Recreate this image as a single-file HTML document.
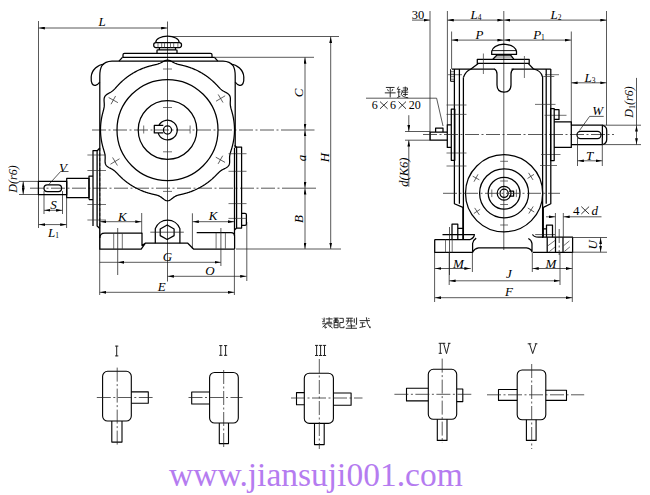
<!DOCTYPE html>
<html><head><meta charset="utf-8">
<style>
html,body{margin:0;padding:0;background:#fff;width:650px;height:495px;overflow:hidden}
svg{display:block}
.k{stroke:#000;stroke-width:1.25;fill:none;stroke-linejoin:round}
.t{stroke:#222;stroke-width:0.75;fill:none}
.x{stroke:#333;stroke-width:0.7;fill:none}
.c{stroke:#222;stroke-width:0.75;fill:none;stroke-dasharray:14 2.5 2 2.5}
.h{stroke:#222;stroke-width:0.75;fill:none;stroke-dasharray:3 2}
text{font-family:"Liberation Serif",serif;fill:#000}
</style></head>
<body>
<svg width="650" height="495" viewBox="0 0 650 495">
<defs>
<marker id="a" viewBox="0 0 6 3" refX="6.4" refY="1.5" markerWidth="6" markerHeight="3" markerUnits="userSpaceOnUse" orient="auto-start-reverse"><path d="M0,0.1 L6,1.5 L0,2.9z" fill="#000"/></marker>
</defs>
<line class="t" x1="38.5" y1="21" x2="38.5" y2="228"/>
<line class="t" x1="38.5" y1="28" x2="167.5" y2="28" marker-start="url(#a)" marker-end="url(#a)"/>
<line class="t" x1="167.5" y1="21.5" x2="167.5" y2="281.5"/>
<line class="t" x1="170" y1="36.5" x2="339" y2="36.5"/>
<line class="t" x1="214" y1="57.3" x2="314" y2="57.3"/>
<line class="c" x1="92" y1="130.0" x2="290" y2="130.0"/>
<line class="t" x1="290" y1="130.0" x2="314.5" y2="130.0"/>
<line class="c" x1="30" y1="188.2" x2="290" y2="188.2"/>
<line class="t" x1="290" y1="188.2" x2="316" y2="188.2"/>
<line class="t" x1="236" y1="249" x2="341" y2="249"/>
<line class="t" x1="305" y1="57.3" x2="305" y2="130.0" marker-start="url(#a)" marker-end="url(#a)"/>
<line class="t" x1="305" y1="130.0" x2="305" y2="188.2" marker-start="url(#a)" marker-end="url(#a)"/>
<line class="t" x1="305" y1="188.2" x2="305" y2="249" marker-start="url(#a)" marker-end="url(#a)"/>
<line class="t" x1="330.7" y1="36.5" x2="330.7" y2="249" marker-start="url(#a)" marker-end="url(#a)"/>
<line class="t" x1="100" y1="221.7" x2="141.7" y2="221.7" marker-start="url(#a)" marker-end="url(#a)"/>
<line class="t" x1="141.7" y1="213" x2="141.7" y2="234"/>
<line class="t" x1="192.4" y1="221.7" x2="234.4" y2="221.7" marker-start="url(#a)" marker-end="url(#a)"/>
<line class="t" x1="192.4" y1="213.3" x2="192.4" y2="249"/>
<line class="t" x1="117.7" y1="262.3" x2="220.9" y2="262.3" marker-start="url(#a)" marker-end="url(#a)"/>
<line class="t" x1="99.7" y1="262.3" x2="117.7" y2="262.3"/>
<line class="t" x1="167.5" y1="276.3" x2="246.6" y2="276.3" marker-start="url(#a)" marker-end="url(#a)"/>
<line class="t" x1="246.8" y1="222" x2="246.8" y2="281"/>
<line class="t" x1="99.7" y1="292.3" x2="234.4" y2="292.3" marker-start="url(#a)" marker-end="url(#a)"/>
<line class="t" x1="99.7" y1="224" x2="99.7" y2="295"/>
<line class="t" x1="234.4" y1="249" x2="234.4" y2="295"/>
<line class="t" x1="38.6" y1="224.6" x2="66.6" y2="224.6" marker-start="url(#a)" marker-end="url(#a)"/>
<line class="t" x1="66.6" y1="195" x2="66.6" y2="228"/>
<line class="t" x1="44" y1="210.3" x2="62.5" y2="210.3" marker-start="url(#a)" marker-end="url(#a)"/>
<line class="t" x1="44" y1="191" x2="44" y2="214"/>
<line class="t" x1="62.5" y1="191" x2="62.5" y2="214"/>
<line class="t" x1="23.2" y1="181.4" x2="23.2" y2="194.5" marker-start="url(#a)" marker-end="url(#a)"/>
<line class="t" x1="19" y1="181.4" x2="38.5" y2="181.4"/>
<line class="t" x1="19" y1="194.5" x2="38.5" y2="194.5"/>
<polyline class="t" points="48.5,184.8 60.6,171.5 68.5,171.5"/>
<text x="102" y="26" text-anchor="middle" style="font-size:13px;font-style:italic;">L</text>
<text transform="translate(302.5,93) rotate(-90)" text-anchor="middle" style="font-size:13px;font-style:italic;">C</text>
<text transform="translate(305.5,158) rotate(-90)" text-anchor="middle" style="font-size:13px;font-style:italic;">a</text>
<text transform="translate(303,219) rotate(-90)" text-anchor="middle" style="font-size:13px;font-style:italic;">B</text>
<text transform="translate(329,157.5) rotate(-90)" text-anchor="middle" style="font-size:13px;font-style:italic;">H</text>
<text x="122.3" y="220.5" text-anchor="middle" style="font-size:13px;font-style:italic;">K</text>
<text x="213" y="220" text-anchor="middle" style="font-size:13px;font-style:italic;">K</text>
<text x="167.4" y="261" text-anchor="middle" style="font-size:13px;font-style:italic;">G</text>
<text x="210" y="275" text-anchor="middle" style="font-size:13px;font-style:italic;">O</text>
<text x="161.7" y="290.5" text-anchor="middle" style="font-size:13px;font-style:italic;">E</text>
<text x="53.5" y="236.5" text-anchor="middle" style="font-size:13px"><tspan style="font-style:italic">L</tspan><tspan dy="1" style="font-size:7.5px">1</tspan></text>
<text x="53.4" y="208.5" text-anchor="middle" style="font-size:13px;font-style:italic;">S</text>
<text x="63" y="171.5" text-anchor="middle" style="font-size:13px;font-style:italic;">V</text>
<text transform="translate(16.9,179) rotate(-90)" text-anchor="middle" style="font-size:12px;font-style:italic;">D(r6)</text>
<path class="k" d="M234.50,130.00 L234.49,130.58 L234.48,131.17 L234.46,131.75 L234.44,132.34 L234.41,132.92 L234.38,133.51 L234.34,134.09 L234.30,134.67 L234.25,135.25 L234.20,135.84 L234.14,136.42 L234.07,137.00 L234.00,137.58 L233.93,138.16 L233.85,138.74 L233.77,139.31 L233.68,139.89 L233.58,140.47 L233.48,141.04 L233.38,141.62 L233.27,142.19 L233.15,142.76 L233.03,143.33 L232.90,143.90 L232.77,144.47 L232.64,145.04 L232.50,145.60 L232.35,146.17 L232.20,146.73 L232.05,147.30 L231.89,147.86 L231.73,148.42 L231.56,148.98 L231.39,149.53 L231.22,150.09 L231.04,150.65 L230.87,151.20 L230.70,151.76 L230.53,152.32 L230.37,152.88 L230.21,153.45 L230.07,154.02 L229.94,154.60 L229.83,155.18 L229.73,155.78 L229.66,156.39 L229.61,157.01 L229.58,157.64 L229.58,158.29 L229.58,158.95 L229.60,159.62 L229.63,160.30 L229.64,160.98 L229.65,161.66 L229.62,162.34 L229.56,163.00 L229.46,163.64 L229.30,164.25 L229.08,164.84 L228.79,165.39 L228.44,165.90 L228.03,166.37 L227.57,166.81 L227.05,167.21 L226.49,167.58 L225.90,167.93 L225.30,168.26 L224.68,168.57 L224.07,168.88 L223.47,169.19 L222.88,169.50 L222.30,169.82 L221.76,170.15 L221.23,170.49 L220.73,170.84 L220.24,171.21 L219.78,171.59 L219.33,171.97 L218.90,172.37 L218.48,172.77 L218.06,173.18 L217.65,173.59 L217.24,174.01 L216.84,174.42 L216.43,174.84 L216.02,175.25 L215.62,175.66 L215.21,176.07 L214.80,176.48 L214.38,176.88 L213.96,177.28 L213.54,177.68 L213.12,178.07 L212.69,178.46 L212.26,178.85 L211.82,179.23 L211.39,179.61 L210.95,179.98 L210.50,180.35 L210.06,180.72 L209.61,181.08 L209.15,181.44 L208.70,181.79 L208.24,182.14 L207.78,182.49 L207.31,182.83 L206.84,183.17 L206.37,183.51 L205.90,183.84 L205.43,184.16 L204.95,184.49 L204.47,184.80 L203.98,185.12 L203.49,185.43 L203.00,185.73 L202.51,186.03 L202.02,186.33 L201.52,186.62 L201.02,186.91 L200.52,187.19 L200.02,187.47 L199.51,187.75 L199.00,188.02 L198.49,188.29 L197.98,188.55 L197.46,188.81 L196.95,189.06 L196.43,189.31 L195.90,189.55 L195.38,189.79 L194.86,190.03 L194.33,190.26 L193.80,190.48 L193.27,190.70 L192.73,190.92 L192.20,191.13 L191.66,191.34 L191.12,191.54 L190.58,191.74 L190.04,191.94 L189.50,192.13 L188.96,192.31 L188.41,192.49 L187.86,192.67 L187.31,192.84 L186.76,193.00 L186.21,193.16 L185.66,193.32 L185.10,193.47 L184.55,193.62 L183.99,193.76 L183.43,193.90 L182.87,194.04 L182.31,194.17 L181.75,194.30 L181.19,194.43 L180.63,194.55 L180.07,194.68 L179.51,194.81 L178.95,194.95 L178.39,195.10 L177.84,195.26 L177.28,195.44 L176.73,195.64 L176.17,195.87 L175.62,196.13 L175.07,196.43 L174.52,196.76 L173.96,197.13 L173.41,197.53 L172.85,197.96 L172.28,198.40 L171.71,198.85 L171.13,199.29 L170.54,199.70 L169.95,200.07 L169.34,200.38 L168.73,200.61 L168.12,200.75 L167.50,200.80 L166.88,200.75 L166.27,200.61 L165.66,200.38 L165.05,200.07 L164.46,199.70 L163.87,199.29 L163.29,198.85 L162.72,198.40 L162.15,197.96 L161.59,197.53 L161.04,197.13 L160.48,196.76 L159.93,196.43 L159.38,196.13 L158.83,195.87 L158.27,195.64 L157.72,195.44 L157.16,195.26 L156.61,195.10 L156.05,194.95 L155.49,194.81 L154.93,194.68 L154.37,194.55 L153.81,194.43 L153.25,194.30 L152.69,194.17 L152.13,194.04 L151.57,193.90 L151.01,193.76 L150.45,193.62 L149.90,193.47 L149.34,193.32 L148.79,193.16 L148.24,193.00 L147.69,192.84 L147.14,192.67 L146.59,192.49 L146.04,192.31 L145.50,192.13 L144.96,191.94 L144.42,191.74 L143.88,191.54 L143.34,191.34 L142.80,191.13 L142.27,190.92 L141.73,190.70 L141.20,190.48 L140.67,190.26 L140.14,190.03 L139.62,189.79 L139.10,189.55 L138.57,189.31 L138.05,189.06 L137.54,188.81 L137.02,188.55 L136.51,188.29 L136.00,188.02 L135.49,187.75 L134.98,187.47 L134.48,187.19 L133.98,186.91 L133.48,186.62 L132.98,186.33 L132.49,186.03 L132.00,185.73 L131.51,185.43 L131.02,185.12 L130.53,184.80 L130.05,184.49 L129.57,184.16 L129.10,183.84 L128.63,183.51 L128.16,183.17 L127.69,182.83 L127.22,182.49 L126.76,182.14 L126.30,181.79 L125.85,181.44 L125.39,181.08 L124.94,180.72 L124.50,180.35 L124.05,179.98 L123.61,179.61 L123.18,179.23 L122.74,178.85 L122.31,178.46 L121.88,178.07 L121.46,177.68 L121.04,177.28 L120.62,176.88 L120.21,176.48 L119.79,176.07 L119.39,175.66 L118.98,175.25 L118.58,174.83 L118.17,174.41 L117.77,174.00 L117.37,173.58 L116.97,173.16 L116.56,172.74 L116.15,172.33 L115.73,171.93 L115.30,171.53 L114.85,171.13 L114.39,170.75 L113.91,170.38 L113.41,170.02 L112.89,169.68 L112.34,169.34 L111.77,169.02 L111.19,168.70 L110.58,168.39 L109.97,168.08 L109.36,167.76 L108.76,167.42 L108.18,167.07 L107.62,166.69 L107.11,166.29 L106.64,165.85 L106.24,165.37 L105.89,164.86 L105.61,164.30 L105.40,163.72 L105.24,163.10 L105.14,162.46 L105.09,161.80 L105.07,161.13 L105.08,160.44 L105.10,159.76 L105.13,159.08 L105.16,158.41 L105.17,157.75 L105.17,157.10 L105.15,156.47 L105.10,155.85 L105.04,155.24 L104.95,154.64 L104.84,154.05 L104.72,153.47 L104.58,152.90 L104.43,152.33 L104.27,151.77 L104.11,151.21 L103.94,150.65 L103.77,150.09 L103.60,149.54 L103.43,148.98 L103.27,148.42 L103.11,147.86 L102.95,147.30 L102.80,146.73 L102.65,146.17 L102.50,145.60 L102.36,145.04 L102.23,144.47 L102.10,143.90 L101.97,143.33 L101.85,142.76 L101.73,142.19 L101.62,141.62 L101.52,141.04 L101.42,140.47 L101.32,139.89 L101.23,139.31 L101.15,138.74 L101.07,138.16 L101.00,137.58 L100.93,137.00 L100.86,136.42 L100.80,135.84 L100.75,135.25 L100.70,134.67 L100.66,134.09 L100.62,133.51 L100.59,132.92 L100.56,132.34 L100.54,131.75 L100.52,131.17 L100.51,130.58 L100.50,130.00 L100.50,129.42 L100.51,128.83 L100.52,128.25 L100.54,127.66 L100.57,127.08 L100.59,126.49 L100.63,125.91 L100.67,125.33 L100.71,124.74 L100.76,124.16 L100.81,123.58 L100.87,123.00 L100.94,122.42 L101.01,121.84 L101.09,121.26 L101.17,120.68 L101.25,120.10 L101.34,119.52 L101.44,118.94 L101.54,118.37 L101.64,117.79 L101.76,117.22 L101.87,116.65 L101.99,116.08 L102.12,115.51 L102.25,114.94 L102.38,114.37 L102.52,113.80 L102.67,113.23 L102.81,112.67 L102.96,112.10 L103.11,111.54 L103.26,110.97 L103.41,110.41 L103.56,109.84 L103.70,109.27 L103.83,108.70 L103.95,108.12 L104.05,107.53 L104.14,106.94 L104.21,106.34 L104.26,105.72 L104.28,105.10 L104.29,104.46 L104.27,103.81 L104.23,103.14 L104.19,102.47 L104.14,101.79 L104.09,101.10 L104.06,100.42 L104.06,99.74 L104.09,99.07 L104.17,98.43 L104.31,97.80 L104.51,97.21 L104.77,96.65 L105.10,96.12 L105.49,95.63 L105.94,95.17 L106.44,94.75 L106.98,94.35 L107.56,93.98 L108.15,93.63 L108.75,93.29 L109.35,92.95 L109.94,92.62 L110.52,92.29 L111.08,91.94 L111.61,91.59 L112.12,91.23 L112.61,90.85 L113.08,90.46 L113.53,90.06 L113.96,89.66 L114.38,89.24 L114.79,88.82 L115.19,88.39 L115.59,87.96 L115.98,87.53 L116.37,87.10 L116.76,86.66 L117.15,86.23 L117.54,85.80 L117.94,85.37 L118.34,84.95 L118.74,84.53 L119.14,84.11 L119.55,83.69 L119.96,83.28 L120.37,82.87 L120.79,82.47 L121.21,82.06 L121.63,81.67 L122.06,81.27 L122.49,80.88 L122.93,80.50 L123.36,80.11 L123.81,79.74 L124.25,79.36 L124.70,78.99 L125.15,78.62 L125.60,78.26 L126.06,77.90 L126.52,77.55 L126.98,77.19 L127.45,76.85 L127.92,76.51 L128.39,76.17 L128.86,75.83 L129.34,75.50 L129.82,75.18 L130.30,74.85 L130.79,74.54 L131.28,74.22 L131.77,73.91 L132.26,73.61 L132.76,73.31 L133.26,73.01 L133.76,72.72 L134.26,72.43 L134.77,72.15 L135.28,71.87 L135.79,71.59 L136.30,71.32 L136.82,71.06 L137.33,70.80 L137.85,70.54 L138.38,70.29 L138.90,70.04 L139.43,69.80 L139.96,69.56 L140.49,69.33 L141.02,69.10 L141.55,68.87 L142.09,68.65 L142.63,68.44 L143.17,68.23 L143.71,68.02 L144.25,67.82 L144.80,67.62 L145.34,67.43 L145.89,67.24 L146.44,67.06 L146.99,66.88 L147.54,66.71 L148.10,66.54 L148.65,66.38 L149.21,66.22 L149.77,66.06 L150.33,65.91 L150.89,65.77 L151.45,65.62 L152.01,65.49 L152.57,65.35 L153.14,65.22 L153.70,65.09 L154.27,64.96 L154.83,64.83 L155.40,64.70 L155.96,64.56 L156.52,64.42 L157.09,64.26 L157.65,64.10 L158.21,63.91 L158.77,63.71 L159.33,63.50 L159.90,63.26 L160.46,63.00 L161.02,62.72 L161.59,62.42 L162.16,62.11 L162.73,61.80 L163.31,61.49 L163.89,61.19 L164.48,60.92 L165.08,60.67 L165.68,60.47 L166.28,60.32 L166.89,60.23 L167.50,60.20 L168.11,60.23 L168.72,60.32 L169.32,60.47 L169.92,60.67 L170.52,60.92 L171.11,61.19 L171.69,61.49 L172.27,61.80 L172.84,62.11 L173.41,62.42 L173.98,62.72 L174.54,63.00 L175.10,63.26 L175.67,63.50 L176.23,63.71 L176.79,63.91 L177.35,64.10 L177.91,64.26 L178.48,64.42 L179.04,64.56 L179.60,64.70 L180.17,64.83 L180.73,64.96 L181.30,65.09 L181.86,65.22 L182.43,65.35 L182.99,65.49 L183.55,65.62 L184.11,65.77 L184.67,65.91 L185.23,66.06 L185.79,66.22 L186.35,66.38 L186.90,66.54 L187.46,66.71 L188.01,66.88 L188.56,67.06 L189.11,67.24 L189.66,67.43 L190.20,67.62 L190.75,67.82 L191.29,68.02 L191.83,68.23 L192.37,68.44 L192.91,68.65 L193.45,68.87 L193.98,69.10 L194.51,69.33 L195.04,69.56 L195.57,69.80 L196.10,70.04 L196.62,70.29 L197.15,70.54 L197.67,70.80 L198.18,71.06 L198.70,71.32 L199.21,71.59 L199.72,71.87 L200.23,72.15 L200.74,72.43 L201.24,72.72 L201.74,73.01 L202.24,73.31 L202.74,73.61 L203.23,73.91 L203.72,74.22 L204.21,74.54 L204.70,74.85 L205.18,75.18 L205.66,75.50 L206.14,75.83 L206.61,76.17 L207.08,76.51 L207.55,76.85 L208.02,77.19 L208.48,77.55 L208.94,77.90 L209.40,78.26 L209.85,78.62 L210.30,78.99 L210.75,79.36 L211.19,79.74 L211.64,80.11 L212.07,80.50 L212.51,80.88 L212.94,81.27 L213.37,81.67 L213.79,82.06 L214.21,82.47 L214.63,82.87 L215.04,83.28 L215.45,83.69 L215.86,84.11 L216.27,84.52 L216.67,84.94 L217.07,85.37 L217.47,85.79 L217.87,86.22 L218.26,86.64 L218.66,87.07 L219.06,87.49 L219.47,87.91 L219.89,88.33 L220.32,88.74 L220.75,89.14 L221.21,89.53 L221.69,89.91 L222.18,90.27 L222.70,90.63 L223.24,90.97 L223.80,91.30 L224.39,91.63 L224.99,91.95 L225.59,92.27 L226.20,92.60 L226.80,92.95 L227.38,93.31 L227.93,93.69 L228.43,94.11 L228.89,94.56 L229.29,95.04 L229.63,95.56 L229.90,96.12 L230.11,96.71 L230.26,97.33 L230.35,97.98 L230.39,98.64 L230.40,99.32 L230.38,100.01 L230.35,100.69 L230.31,101.37 L230.28,102.05 L230.26,102.71 L230.25,103.36 L230.27,104.00 L230.30,104.63 L230.36,105.24 L230.44,105.84 L230.54,106.43 L230.65,107.01 L230.78,107.59 L230.93,108.16 L231.07,108.73 L231.23,109.29 L231.39,109.86 L231.55,110.42 L231.71,110.98 L231.87,111.54 L232.02,112.11 L232.18,112.67 L232.33,113.23 L232.47,113.80 L232.61,114.37 L232.75,114.94 L232.88,115.51 L233.01,116.08 L233.13,116.65 L233.24,117.22 L233.36,117.79 L233.46,118.37 L233.56,118.94 L233.66,119.52 L233.75,120.10 L233.83,120.68 L233.91,121.26 L233.99,121.84 L234.06,122.42 L234.13,123.00 L234.19,123.58 L234.24,124.16 L234.29,124.74 L234.33,125.33 L234.37,125.91 L234.41,126.49 L234.43,127.08 L234.46,127.66 L234.48,128.25 L234.49,128.83 L234.50,129.42Z"/>
<g id="fhalf">
<path class="k" d="M167.5,61.2 L112,61.2 Q105,61.5 102,65.5 Q99.8,69 99.8,76 L99.8,148"/>
<path class="k" d="M104.2,64 C98,64.5 91.5,70 91.2,77 C90.8,83 92.5,86 95.5,85.3 C97.5,84.8 98.8,83.5 99.8,82"/>
</g>
<use href="#fhalf" transform="translate(335,0) scale(-1,1)"/>
<path class="k" d="M123,57.3 L123,54.8 Q123,53.4 124.5,53.4 L210.5,53.4 Q212,53.4 212,54.8 L212,57.3"/>
<line class="k" x1="122.4" y1="57.3" x2="214.5" y2="57.3"/>
<line class="k" x1="122.4" y1="57.3" x2="119" y2="61.2"/>
<line class="k" x1="214.5" y1="57.3" x2="217.8" y2="61.2"/>
<path class="k" d="M155.7,42.5 A11.75,6.4 0 0 1 179.2,42.5"/>
<rect class="k" x="153.7" y="42.5" width="27.8" height="5" rx="2.2"/>
<path class="x" d="M158,42.5v5 M161.7,42.5v5 M164.5,42.5v5 M170.5,42.5v5 M173.7,42.5v5 M177.9,42.5v5"/>
<path class="k" d="M159.4,47.5v2.3 M175.5,47.5v2.3 M157,53.4 V50.5 Q157,49.8 158,49.8 L176,49.8 Q177,49.8 177,50.5 V53.4"/>
<circle class="k" cx="167.5" cy="130.0" r="50.5"/>
<circle class="k" cx="167.5" cy="130.0" r="29.3"/>
<circle class="k" cx="167.5" cy="130.0" r="4.05"/>
<path class="k" d="M158.85,125.4 A9.8,9.8 0 1 1 158.1,132.9 M163.3,125.4 H154.3 V132.9 H163.3"/>
<path class="x" transform="translate(113.3,100.1) rotate(-151.1)" d="M-5.3,0H5.3 M0,-4.7V4.7"/>
<path class="x" transform="translate(115.0,161.5) rotate(149.0)" d="M-5.3,0H5.3 M0,-4.7V4.7"/>
<path class="x" transform="translate(220.6,98.5) rotate(-30.7)" d="M-5.3,0H5.3 M0,-4.7V4.7"/>
<path class="x" transform="translate(220.4,159.8) rotate(29.4)" d="M-5.3,0H5.3 M0,-4.7V4.7"/>
<path class="x" d="M163,69h9 M163,107.5h9 M163,151.8h9 M163,191.4h9 M143.7,125.5v8 M190.1,125.5v8"/>
<path class="k" d="M93,226 V150.5 H97.5 L99.8,148 M97.1,150.5 V226 L99.8,228.5"/>
<path class="k" d="M89,199.6 V176 H93 M89,199.6 H93"/>
<path class="k" d="M66.7,178.4 H89 V197.6 H66.7 Z"/>
<path class="k" d="M38.4,181.4 H66.7 V194.5 H38.4 Z"/>
<rect class="k" x="44" y="184.8" width="17.6" height="6.7" rx="3.3"/>
<path class="x" d="M87.4,155h18.6 M87.4,170.5h18.6 M87.4,204.5h18.6 M87.4,220h18.6"/>
<path class="h" d="M99.8,148V228"/>
<path class="k" d="M234.5,145.5 L236.6,147 H241.6 V228 H236.6 L234.5,230 M236.6,147 V228"/>
<path class="k" d="M241.6,213.3 H245 Q246.4,213.3 246.4,214.8 V224 Q246.4,225.4 245,225.4 H241.6"/>
<path class="x" d="M228.5,153.7h18 M228.5,171.3h18 M228.5,203.6h18 M228.5,218.4h18"/>
<path class="k" d="M99.8,148 V238 M234.5,148 V236"/>
<path class="k" d="M99.8,238.2 Q99.8,233.2 104.8,233.2 H142 V245.5 L145.2,243.2 H187.8 L193.5,249 H234.4 M99.8,238 V249.2 H141.2 L145.2,243.3"/>
<path class="k" d="M196.7,232.7 H231 Q234.6,232.7 234.6,236.5 V249"/>
<path class="x" d="M113.7,233.2v16 M122.3,233.2v16 M216.1,232.8v16 M225.4,232.8v16"/>
<path class="t" d="M117.7,228v47 M220.9,228v38"/>
<path class="k" d="M155.3,243.2 V228.6 A13.15,13.15 0 0 1 179.9,228.6 V243.2"/>
<path class="k" d="M167.2,225 L174.1,229 V235.6 L167.2,239.5 L160.2,235.6 V229 Z"/>
<line class="t" x1="150.3" y1="232.2" x2="183.8" y2="232.2"/>
<line class="t" x1="430" y1="11" x2="430" y2="140"/>
<line class="t" x1="447.4" y1="11" x2="447.4" y2="125"/>
<line class="t" x1="606.5" y1="11" x2="606.5" y2="125.2"/>
<line class="t" x1="503.8" y1="11" x2="503.8" y2="250"/>
<line class="t" x1="412" y1="20.1" x2="430" y2="20.1" marker-end="url(#a)"/>
<line class="t" x1="447.4" y1="20.1" x2="503.8" y2="20.1" marker-start="url(#a)" marker-end="url(#a)"/>
<line class="t" x1="503.8" y1="20.1" x2="606.7" y2="20.1" marker-start="url(#a)" marker-end="url(#a)"/>
<line class="t" x1="451.6" y1="31.5" x2="451.6" y2="69"/>
<line class="t" x1="571.3" y1="31.5" x2="571.3" y2="125.2"/>
<line class="t" x1="451.6" y1="40.1" x2="503.8" y2="40.1" marker-start="url(#a)" marker-end="url(#a)"/>
<line class="t" x1="503.8" y1="40.1" x2="571.2" y2="40.1" marker-start="url(#a)" marker-end="url(#a)"/>
<line class="t" x1="571.2" y1="82.8" x2="606.7" y2="82.8" marker-start="url(#a)" marker-end="url(#a)"/>
<text x="418" y="18.6" text-anchor="middle" style="font-size:12.5px;">30</text>
<text x="476" y="18.8" text-anchor="middle" style="font-size:13px"><tspan style="font-style:italic">L</tspan><tspan dy="1" style="font-size:7.5px">4</tspan></text>
<text x="556" y="18.8" text-anchor="middle" style="font-size:13px"><tspan style="font-style:italic">L</tspan><tspan dy="1" style="font-size:7.5px">2</tspan></text>
<text x="479.5" y="38.8" text-anchor="middle" style="font-size:13px;font-style:italic;">P</text>
<text x="539" y="38.8" text-anchor="middle" style="font-size:13px"><tspan style="font-style:italic">P</tspan><tspan dy="1" style="font-size:7.5px">1</tspan></text>
<text x="590" y="81.5" text-anchor="middle" style="font-size:13px"><tspan style="font-style:italic">L</tspan><tspan dy="1" style="font-size:7.5px">3</tspan></text>
<path class="k" d="M491.7,54.4 V51.5 Q493,45 503.8,44.1 Q515,45 516.5,51.5 V54.4 Z"/>
<path class="k" d="M492.9,59.2 L497,55 H510.5 L513.8,59.2"/>
<line class="x" x1="495" y1="57" x2="512" y2="57"/>
<line class="k" style="stroke-width:0.9" x1="491.7" y1="50.6" x2="516.5" y2="50.6"/>
<path class="k" d="M477.3,59.3 H529.2 V63.4 H477.3 Z"/>
<path class="k" d="M452,69 H495 M511.5,69 H550.8"/>
<path class="k" d="M478.3,63.4 L471.3,68.8 Q465.5,71 463.4,77.5 M528.2,63.4 L533.5,69 Q541,70.5 542.6,77"/>
<path class="k" d="M494.5,69 Q497,70.5 497,74 V85 Q497,92 504,92 Q511,92 511,85 V74 Q511,70.5 513.5,69"/>
<path class="x" d="M483.4,53.5v20.5 M524.4,56v22"/>
<path class="x" d="M448,74.7h14 M545,74.7h14"/>
<path class="k" style="stroke-width:1" d="M450.6,69.2 V81.3 H454.6"/>
<path class="x" d="M450.6,71.7h4 M450.6,74.2h4 M450.6,76.7h4 M450.6,79.2h4"/>
<path class="k" d="M463.4,77.5 V239 M542.6,77 V238"/>
<path class="k" d="M454.4,69.1 V203.7 L462.9,207.4 M459.4,69.1 V203.7 M550.8,69.1 V203.7 L543.4,207.4 M546.2,69.1 V203.7"/>
<path class="x" d="M446.5,105h20 M446.5,114.4h20 M446.5,153h20 M446.5,166h20 M543.3,76.5h11 M535,104.4h20.5 M544.5,115.3h22 M541,154.5h19.5 M540,165.5h17"/>
<path class="k" d="M430.1,132 H447.3 V140.2 H430.1 Z M435.6,132 V128 H443 V132 M447.3,124.8 H451.3 V147.4 H447.3 Z M451.3,109.2 H454.8 V160.3 H451.3 Z"/>
<line class="c" x1="423" y1="134.5" x2="614" y2="134.5"/>
<path class="k" d="M550.6,108.5 H554.2 V160.6 H550.6 Z M554.2,121.9 H571.3 V147.4 H554.2 Z M571.3,125.2 H602.4 V144.6 H571.3 Z M602.4,125.2 Q606.7,126.5 606.7,130.4 V139.4 Q606.7,143.3 602.4,144.6 M554.2,109.7 H559 V119.4 H554.2"/>
<rect class="k" x="577" y="131.4" width="24" height="7.1" rx="3.5"/>
<line class="t" x1="602.4" y1="125.2" x2="641" y2="125.2"/>
<line class="t" x1="602.4" y1="144.6" x2="641" y2="144.6"/>
<line class="t" x1="636.5" y1="125.2" x2="636.5" y2="144.6" marker-start="url(#a)" marker-end="url(#a)"/>
<line class="t" x1="636.5" y1="77.9" x2="636.5" y2="125.2"/>
<polyline class="t" points="579.5,130.5 589.6,116.4 603.7,116.4"/>
<line class="t" x1="577.5" y1="138" x2="577.5" y2="166"/>
<line class="t" x1="602.3" y1="138" x2="602.3" y2="166"/>
<line class="t" x1="577.5" y1="160.8" x2="602.3" y2="160.8" marker-start="url(#a)" marker-end="url(#a)"/>
<text x="597.6" y="115" text-anchor="middle" style="font-size:13px;font-style:italic;">W</text>
<text x="589.6" y="160" text-anchor="middle" style="font-size:13px;font-style:italic;">T</text>
<text transform="translate(633,102) rotate(-90)" text-anchor="middle" style="font-size:12px;font-style:italic">D<tspan dy="2" style="font-size:8px;font-style:normal">1</tspan><tspan dy="-2">(r6)</tspan></text>
<line class="t" x1="405" y1="131.5" x2="430" y2="131.5"/>
<line class="t" x1="405" y1="140.2" x2="430" y2="140.2"/>
<line class="t" x1="408.8" y1="115.2" x2="408.8" y2="131.5" marker-end="url(#a)"/>
<line class="t" x1="408.8" y1="186.7" x2="408.8" y2="140.2" marker-end="url(#a)"/>
<text transform="translate(408.2,172.2) rotate(-90)" text-anchor="middle" style="font-size:12.5px;font-style:italic;">d(K6)</text>
<polyline class="t" points="366,98.2 436.6,98.2 443,126"/>
<text x="371.7" y="109.2" text-anchor="start" style="font-size:12px;">6</text>
<text x="390" y="109.2" text-anchor="start" style="font-size:12px;">6</text>
<text x="408.8" y="109.2" text-anchor="start" style="font-size:12px;">20</text>
<path stroke="#111" stroke-width="0.85" d="M380,101.6 L387.6,108.8 M387.6,101.6 L380,108.8 M398.6,101.6 L406,108.8 M406,101.6 L398.6,108.8"/>
<path transform="translate(384.8,86.6) scale(1.080)" stroke="#222" stroke-width="0.88" fill="none" d="M1,0.8H9 M2.5,2.5L3.5,4.3 M7.5,2.3L6.5,4.3 M0,5.8H10 M5,0.8V10"/>
<path transform="translate(397,86.6) scale(1.120)" stroke="#222" stroke-width="0.85" fill="none" d="M1.5,0L0.2,2.5 M0.5,2.5H3 M0.3,4.8H3 M1.6,2.5V9.2 M0.3,9.8L3,8.6 M5.2,1.2H9.3V3.2H5.2 M4.8,5H10 M5.4,7H9.6 M7.4,0V8.5 M3.8,3.8H5L3.8,7Q5,9.5 10,10"/>
<circle class="k" cx="504.1" cy="193.3" r="38.6"/>
<circle class="k" cx="504.1" cy="193.3" r="24.5"/>
<circle class="k" cx="504.1" cy="193.3" r="15.9"/>
<circle class="k" cx="504.1" cy="193.3" r="6.9"/>
<circle class="k" cx="504.1" cy="193.3" r="4.1"/>
<path class="k" d="M509,191 H513.6 V196.2 H509"/>
<line class="c" x1="443" y1="193.3" x2="560" y2="193.3"/>
<path class="x" transform="translate(476.0,178.0) rotate(-151.4)" d="M-3.8,0H3.8 M0,-4.2V4.2"/>
<path class="x" transform="translate(530.8,176.4) rotate(-32.3)" d="M-3.8,0H3.8 M0,-4.2V4.2"/>
<path class="x" transform="translate(477.0,211.4) rotate(146.3)" d="M-3.8,0H3.8 M0,-4.2V4.2"/>
<path class="x" transform="translate(531.0,210.0) rotate(31.8)" d="M-3.8,0H3.8 M0,-4.2V4.2"/>
<path class="x" d="M500.2,161.3h7.8 M500.2,181h7.8 M500.2,204.5h7.8 M500.2,225h7.8 M491.8,189.5v7.6 M516.4,189.5v7.6"/>
<path class="k" d="M434.7,239.5 V252.4 H472.6 V243.5 Q473.2,240 476.2,238.1 M434.7,239.5 H470.2 Q474,238 474.4,234.6 H442.5"/>
<path class="k" d="M472.6,252 Q474.5,248.5 478.6,247.8 H526.5 Q531,248.5 532,251.8 V243.6 Q531.5,240 528.3,238.5"/>
<path class="k" d="M533,252.4 H572.6 V237.2 H538.5 Q533.5,237 532.5,234.4"/>
<line class="t" x1="535.2" y1="234.6" x2="555" y2="234.6"/>
<path class="k" d="M462.9,207 V239.5 M452,239.5 V224.2 H457.8 V239.5 M457.8,228.4 H462.9"/>
<path class="k" d="M543.3,207 V237.2 M546.5,237.2 V225.2 H552.5 V237.2 M543.3,228.9 H546.5"/>
<path class="k" d="M547.2,237.2 V252.4 M555.5,237.2 V252.4 M563,237.2 V252.4"/>
<path class="x" d="M445.5,239.5v12.9 M452.2,239.5v12.9"/>
<path class="x" d="M547.7,245.9 L555.1,240.4 M549.5,251.5 L555.1,246.9 M563.4,245.9 L569.4,240.9 M564.3,251.5 L569.9,246.9"/>
<path class="t" d="M449.5,227v48"/>
<path class="c" d="M559.2,229v26"/>
<line class="t" x1="434.6" y1="252.5" x2="434.6" y2="302"/>
<line class="t" x1="472.4" y1="252.5" x2="472.4" y2="272"/>
<line class="t" x1="532.3" y1="252.5" x2="532.3" y2="272"/>
<line class="t" x1="572.3" y1="252.5" x2="572.3" y2="302"/>
<line class="t" x1="449.2" y1="252.5" x2="449.2" y2="285"/>
<line class="t" x1="560" y1="252.5" x2="560" y2="285"/>
<line class="t" x1="434.8" y1="268.5" x2="470.8" y2="268.5" marker-start="url(#a)" marker-end="url(#a)"/>
<line class="t" x1="532.3" y1="268.5" x2="572.3" y2="268.5" marker-start="url(#a)" marker-end="url(#a)"/>
<line class="t" x1="449.2" y1="280.8" x2="560" y2="280.8" marker-start="url(#a)" marker-end="url(#a)"/>
<line class="t" x1="434.8" y1="297.7" x2="572.3" y2="297.7" marker-start="url(#a)" marker-end="url(#a)"/>
<line class="t" x1="572" y1="237.5" x2="607" y2="237.5"/>
<line class="t" x1="572" y1="252.2" x2="607" y2="252.2"/>
<line class="t" x1="600.6" y1="237.5" x2="600.6" y2="252.2" marker-start="url(#a)" marker-end="url(#a)"/>
<line class="t" x1="546" y1="216.8" x2="555.4" y2="216.8" marker-end="url(#a)"/>
<line class="t" x1="601.5" y1="216.8" x2="563.3" y2="216.8" marker-end="url(#a)"/>
<line class="t" x1="555.4" y1="213" x2="555.4" y2="237.5"/>
<line class="t" x1="563.3" y1="213" x2="563.3" y2="237.5"/>
<text x="458.5" y="267.5" text-anchor="middle" style="font-size:13px;font-style:italic;">M</text>
<text x="550.8" y="267.5" text-anchor="middle" style="font-size:13px;font-style:italic;">M</text>
<text x="509" y="278" text-anchor="middle" style="font-size:13px;font-style:italic;">J</text>
<text x="509" y="295.5" text-anchor="middle" style="font-size:13px;font-style:italic;">F</text>
<text transform="translate(596.5,244.8) rotate(-90)" text-anchor="middle" style="font-size:13px;font-style:italic;">U</text>
<text x="573" y="214.8" text-anchor="start" style="font-size:13px;">4</text>
<text x="591.5" y="214.8" text-anchor="start" style="font-size:13px;font-style:italic;">d</text>
<path stroke="#111" stroke-width="0.85" d="M581.3,206.6 L589.1,214 M589.1,206.6 L581.3,214"/>
<path stroke="#222" stroke-width="1.0" fill="none" d="M116.7,345.8V356.2 M115.10000000000001,346.1H118.3 M115.10000000000001,355.9H118.3"/>
<path stroke="#222" stroke-width="1.0" fill="none" d="M220.8,345.3V355.6 M219.20000000000002,345.6H222.4 M219.20000000000002,355.3H222.4"/>
<path stroke="#222" stroke-width="1.0" fill="none" d="M225.6,345.3V355.6 M224.0,345.6H227.2 M224.0,355.3H227.2"/>
<path stroke="#222" stroke-width="1.0" fill="none" d="M316.6,345.1V355.8 M315.0,345.40000000000003H318.20000000000005 M315.0,355.5H318.20000000000005"/>
<path stroke="#222" stroke-width="1.0" fill="none" d="M320.6,345.1V355.8 M319.0,345.40000000000003H322.20000000000005 M319.0,355.5H322.20000000000005"/>
<path stroke="#222" stroke-width="1.0" fill="none" d="M324.5,345.1V355.8 M322.9,345.40000000000003H326.1 M322.9,355.5H326.1"/>
<path stroke="#222" stroke-width="1.0" fill="none" d="M440.3,343V353.6 M438.7,343.3H441.90000000000003 M438.7,353.3H441.90000000000003"/>
<path stroke="#222" stroke-width="1.0" fill="none" d="M443.5,343L446.5,353.6L449.2,343 M441.7,343.3H445.3 M447.9,343.3H450.5"/>
<path stroke="#222" stroke-width="1.0" fill="none" d="M529.5,343.5L532.7,353.6L536.1,343.5 M527.7,343.8H531.3 M534.8000000000001,343.8H537.4"/>
<path transform="translate(322,317.3) scale(1.080)" stroke="#222" stroke-width="0.88" fill="none" d="M2,0.3V4.8 M0.3,1.2L1.3,2.2 M0.2,4.2L2,3.2 M3.5,1.5H9.8 M6.6,0V4.6 M4.2,4.6H9.2 M4.8,4.9L5.3,5.6 M0.3,6H9.7 M4.3,6L0.5,9.2 M2.8,7.8V10 M2.8,10L4.5,9.2 M5.5,6.8L9.8,10 M8.5,7.5L7,8.7"/>
<path transform="translate(333.6,317.3) scale(1.040)" stroke="#222" stroke-width="0.91" fill="none" d="M0,0.8H4.8 M0.5,2.5H4.3V10H0.5Z M1.8,0.8V5 M3,0.8V5 M0.5,5H4.3 M0.5,7.5H4.3 M5.5,1H9.3V5H6V9.5Q6,10 7,10H10V8.5"/>
<path transform="translate(345.8,317.3) scale(1.120)" stroke="#222" stroke-width="0.85" fill="none" d="M0.3,0.8H6.3 M0,3.3H6.6 M2.2,0.8V3.3Q2.1,5.5 0.5,6.5 M4.6,0.8V6.5 M7.6,1V5 M9.6,0.2V6.5L8.8,6 M1.5,7.7H8.5 M5,6.2V9.8 M0,9.8H10"/>
<path transform="translate(359.2,317.3) scale(1.100)" stroke="#222" stroke-width="0.86" fill="none" d="M0.3,3H9.8 M6.5,0Q6.7,6 9.9,9.8 M9.9,9.8V8.3 M8.3,0.6L9.2,1.6 M0.8,5H5 M2.9,5V8.8 M0.3,9.3L5.8,8.2"/>
<rect class="k" style="stroke-width:1.1" x="102.6" y="371.3" width="28.7" height="49.7" rx="5"/>
<path class="k" style="stroke-width:1.1" d="M131.3,391.9 H148.3 V403.3 H131.3"/>
<path class="k" style="stroke-width:1.1" d="M111.8,421 V442.1 H122 V421"/>
<path class="c" d="M117.2,367.6V446.5 M96.8,397.5H152.6"/>
<rect class="k" style="stroke-width:1.1" x="209.6" y="372.5" width="28.7" height="50.5" rx="5"/>
<path class="k" style="stroke-width:1.1" d="M209.6,392 H191.7 V404 H209.6"/>
<path class="k" style="stroke-width:1.1" d="M219.3,423 V443.6 H228.5 V423"/>
<path class="c" d="M223.7,370V449 M188.5,397.5H242.6"/>
<rect class="k" style="stroke-width:1.1" x="304.3" y="373.2" width="29.1" height="50.2" rx="5"/>
<path class="k" style="stroke-width:1.1" d="M304.3,392.6 H296.5 V404.8 H304.3"/>
<path class="k" style="stroke-width:1.1" d="M333.4,393 H351.1 V405.2 H333.4"/>
<path class="k" style="stroke-width:1.1" d="M314.5,423.4 V444.6 H324.2 V423.4"/>
<path class="c" d="M319.3,359V449 M291,398H362.5"/>
<rect class="k" style="stroke-width:1.1" x="428.3" y="369.3" width="28.4" height="50" rx="5"/>
<path class="k" style="stroke-width:1.1" d="M428.3,388.3 H406.5 V400.9 H428.3"/>
<path class="k" style="stroke-width:1.1" d="M456.7,389 H462.8 V401.6 H456.7"/>
<path class="k" style="stroke-width:1.1" d="M437.3,419.3 V440.4 H447 V419.3"/>
<path class="c" d="M442.2,358.6V442.9 M394.4,394.3H471.3"/>
<rect class="k" style="stroke-width:1.1" x="517.2" y="370" width="28.6" height="49.8" rx="5"/>
<path class="k" style="stroke-width:1.1" d="M517.2,389.5 H498.5 V400.4 H517.2"/>
<path class="k" style="stroke-width:1.1" d="M545.8,390.2 H566.5 V400.4 H545.8"/>
<path class="k" style="stroke-width:1.1" d="M526.4,419.8 V440.4 H536.1 V419.8"/>
<path class="c" d="M531.7,364V449 M487,394.8H584.2"/>
<text x="169" y="485.7" style="font-size:33.5px;fill:#b57cf0">www.jiansuji001.com</text>
</svg>
</body></html>
